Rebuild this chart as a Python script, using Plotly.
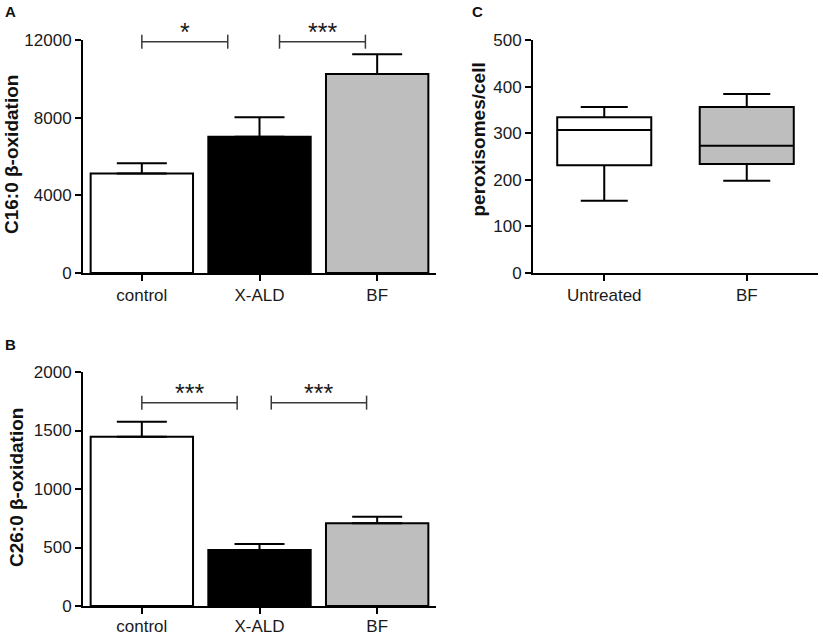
import plotly.graph_objects as go

W, H = 823, 636
OFF = 0  # body margin removed via post_script

# ---------------- data ----------------
groups = ["control", "X-ALD", "BF"]
c16_mean = [5130, 7020, 10250]
c16_sem = [520, 1000, 1013]
c26_mean = [1447, 479, 707]
c26_sem = [128, 51, 56]
bar_colors = ["#ffffff", "#000000", "#bebebe"]

c16_ticks = [0, 4000, 8000, 12000]
c26_ticks = [0, 500, 1000, 1500, 2000]

box_groups = ["Untreated", "BF"]
box_lower = [155, 198]
box_q1 = [231, 234]
box_median = [307, 273]
box_q3 = [334, 356]
box_upper = [356, 384]
box_colors = ["#ffffff", "#bebebe"]
pex_ticks = [0, 100, 200, 300, 400, 500]

# significance brackets: (start, end, height, label)
c16_sig = [(0.0, 0.73, 11913, "*"), (1.17, 1.90, 11913, "***")]
c26_sig = [(0.0, 0.81, 1738, "***"), (1.10, 1.91, 1738, "***")]

# ---------------- layout helpers ----------------
def px_x(p):
    return (p - OFF) / W

def px_y(p):
    return 1 - (p - OFF) / H

domA_x = [px_x(83), px_x(436)]
domA_y = [px_y(273), px_y(40)]
domB_x = [px_x(83), px_x(436)]
domB_y = [px_y(606), px_y(372)]
domC_x = [px_x(533), px_x(818)]
domC_y = [px_y(273), px_y(40)]

FONT = "Liberation Sans, Arial, Helvetica, sans-serif"
TICKFONT = dict(family=FONT, size=17, color="#1a1a1a")

fig = go.Figure()

# Panel A bars
fig.add_trace(go.Bar(
    x=groups, y=c16_mean, xaxis="x", yaxis="y", width=0.87,
    marker=dict(color=bar_colors, line=dict(color="black", width=2)),
    error_y=dict(type="data", array=c16_sem, arrayminus=[0] * 3, symmetric=False,
                 color="black", thickness=2, width=25),
    showlegend=False, hoverinfo="skip"))

# Panel B bars
fig.add_trace(go.Bar(
    x=groups, y=c26_mean, xaxis="x2", yaxis="y2", width=0.87,
    marker=dict(color=bar_colors, line=dict(color="black", width=2)),
    error_y=dict(type="data", array=c26_sem, arrayminus=[0] * 3, symmetric=False,
                 color="black", thickness=2, width=25),
    showlegend=False, hoverinfo="skip"))

# Panel C boxes
for i, g in enumerate(box_groups):
    fig.add_trace(go.Box(
        x=[g], q1=[box_q1[i]], median=[box_median[i]], q3=[box_q3[i]],
        lowerfence=[box_lower[i]], upperfence=[box_upper[i]],
        xaxis="x3", yaxis="y3", width=0.66, whiskerwidth=0.5,
        fillcolor=box_colors[i], line=dict(color="black", width=2),
        boxpoints=False, showlegend=False, hoverinfo="skip"))

axis_common = dict(showline=True, linecolor="black", linewidth=2, ticks="outside",
                   ticklen=6, tickwidth=2, tickcolor="black", showgrid=False,
                   zeroline=False, tickfont=TICKFONT, fixedrange=True,
                   automargin=False)

fig.update_layout(
    width=W, height=H, margin=dict(l=0, r=0, t=0, b=0, autoexpand=False),
    paper_bgcolor="white", plot_bgcolor="white",
    font=dict(family=FONT),
    xaxis=dict(domain=domA_x, anchor="y", type="category", range=[-0.5, 2.5], **axis_common),
    yaxis=dict(domain=domA_y, anchor="x", range=[0, 12000], tickvals=c16_ticks,
               ticktext=[str(v) for v in c16_ticks], **axis_common),
    xaxis2=dict(domain=domB_x, anchor="y2", type="category", range=[-0.5, 2.5],
                ticklabelstandoff=-2, **axis_common),
    yaxis2=dict(domain=domB_y, anchor="x2", range=[0, 2000], tickvals=c26_ticks,
                ticktext=[str(v) for v in c26_ticks], **axis_common),
    xaxis3=dict(domain=domC_x, anchor="y3", type="category", range=[-0.5, 1.5],
                categoryorder="array", categoryarray=box_groups, **axis_common),
    yaxis3=dict(domain=domC_y, anchor="x3", range=[0, 500], tickvals=pex_ticks,
                ticktext=[str(v) for v in pex_ticks], **axis_common),
)

shapes = []
annotations = []

# extend x axis line left by tick length (Prism style)
for dx, dy in [(domA_x, domA_y), (domB_x, domB_y), (domC_x, domC_y)]:
    shapes.append(dict(type="line", xref="paper", yref="paper",
                       x0=dx[0] - 6 / W, x1=dx[0], y0=dy[0], y1=dy[0],
                       line=dict(color="black", width=2)))

def add_brackets(sig, xa, ya, xr, yr, dom_y):
    hpx = (dom_y[1] - dom_y[0]) * H
    for (s, e, h, lab) in sig:
        xs = (s - xr[0]) / (xr[1] - xr[0])
        xe = (e - xr[0]) / (xr[1] - xr[0])
        yh = (h - yr[0]) / (yr[1] - yr[0])
        up, dn = 7 / hpx, 7 / hpx
        ln = dict(color="#3a3a3a", width=1.5)
        shapes.append(dict(type="line", xref=xa + " domain", yref=ya + " domain",
                           x0=xs, x1=xe, y0=yh, y1=yh, line=ln))
        for xx in (xs, xe):
            shapes.append(dict(type="line", xref=xa + " domain", yref=ya + " domain",
                               x0=xx, x1=xx, y0=yh - dn, y1=yh + up, line=ln))
        annotations.append(dict(xref=xa + " domain", yref=ya + " domain",
                                x=(xs + xe) / 2, y=yh, text=lab, showarrow=False,
                                xanchor="center", yanchor="bottom", yshift=-6,
                                font=dict(family=FONT, size=25, color="#1a1a1a")))

add_brackets(c16_sig, "x", "y", [-0.5, 2.5], [0, 12000], domA_y)
add_brackets(c26_sig, "x2", "y2", [-0.5, 2.5], [0, 2000], domB_y)

# axis titles
titles = [("C16:0 β-oxidation", 11, 155), ("C26:0 β-oxidation", 16.5, 487.5),
          ("peroxisomes/cell", 478, 139.5)]
for t, xp, yp in titles:
    annotations.append(dict(xref="paper", yref="paper", x=px_x(xp), y=px_y(yp),
                            text="<b>" + t + "</b>", textangle=-90, showarrow=False,
                            xanchor="center", yanchor="middle",
                            font=dict(family=FONT, size=19, color="#111111")))

# panel letters
for lab, xp, yp in [("A", 10.5, 12), ("B", 10.5, 344), ("C", 477, 12)]:
    annotations.append(dict(xref="paper", yref="paper", x=px_x(xp), y=px_y(yp),
                            text="<b>" + lab + "</b>", showarrow=False,
                            xanchor="center", yanchor="middle",
                            font=dict(family=FONT, size=15, color="#111111")))

fig.update_layout(shapes=shapes, annotations=annotations)

fig.write_html("out.html", config={"displayModeBar": False},
               post_script="document.body.style.margin='0';document.body.style.overflow='hidden';")
